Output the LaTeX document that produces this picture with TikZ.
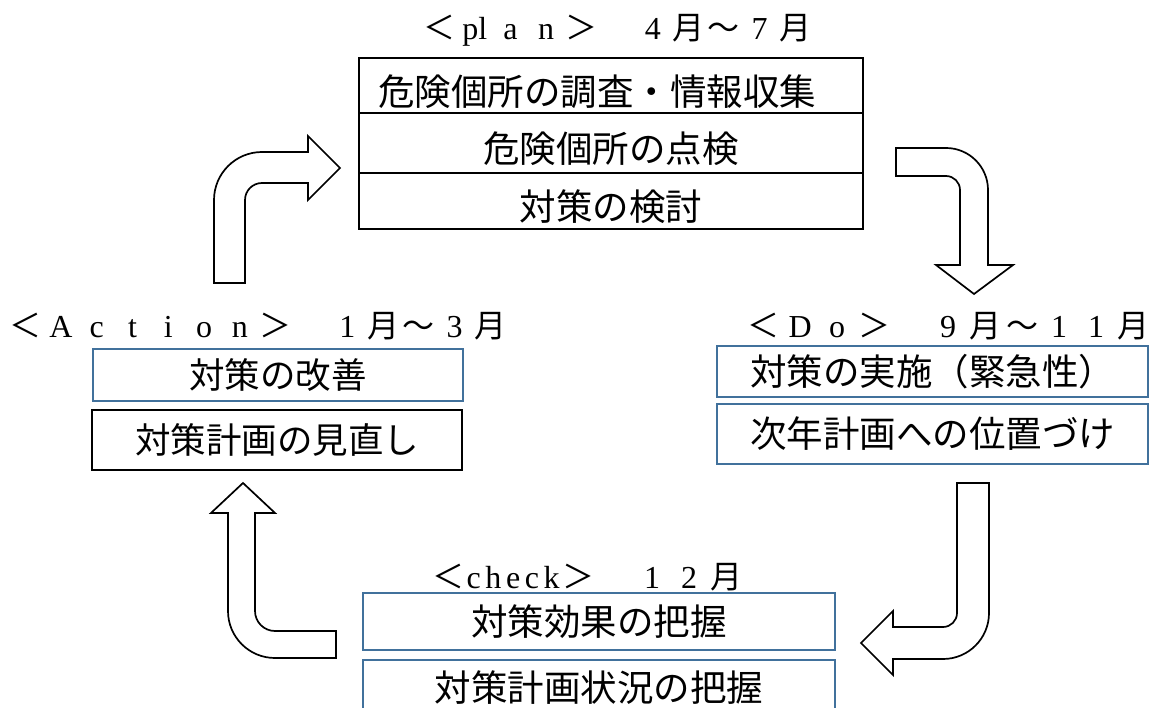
\documentclass[tikz,border=0pt]{standalone}
\usepackage{fontspec}
\setmainfont{Liberation Serif}
\newfontfamily\jp{Noto Sans CJK JP}
\newlength\cw
\newcommand\fc[1]{\makebox[\cw][c]{#1}}
\definecolor{boxblue}{HTML}{41719C}
\tikzset{
  bk/.style={draw=black, line width=1.6pt, fill=white, inner sep=0pt},
  bl/.style={draw=boxblue, line width=1.3pt, fill=white, inner sep=0pt},
  jtext/.style={font=\jp\fontsize{36.5}{36.5}\selectfont},
  plantext/.style={jtext, text height=40pt, text depth=0pt},
  barrow/.style={draw=black, line width=1.7pt, fill=white, line join=miter},
  head/.style={inner sep=0pt, anchor=base west, font=\fontsize{32}{32}\selectfont},
}
\begin{document}
\begin{tikzpicture}[x=1pt, y=-1pt]
\useasboundingbox (0,0) rectangle (1150,708);
\clip (0,0) rectangle (1150,708);
\fill[white] (0,0) rectangle (1150,708);

% ---------- headings ----------
\node[head] (hplan) at (421.2,40) {\setlength\cw{35.6pt}\fc{\jp ＜}\fc{pl}\fc{a}\fc{n}\fc{\jp ＞}\fc{}\fc{4}\fc{\jp 月}\fc{\jp ～}\fc{7}\fc{\jp 月}};
\node[head] (hact) at (7,337) {\setlength\cw{35.8pt}\fc{\jp ＜}\fc{A}\fc{c}\fc{t}\fc{i}\fc{o}\fc{n}\fc{\jp ＞}\fc{}\fc{1}\fc{\jp 月}\fc{\jp ～}\fc{3}\fc{\jp 月}};
\node[head] (hdo) at (744.5,337) {\setlength\cw{37pt}\fc{\jp ＜}\fc{D}\fc{o}\fc{\jp ＞}\fc{}\fc{9}\fc{\jp 月}\fc{\jp ～}\fc{1}\fc{1}\fc{\jp 月}};
\node[head] (hchk) at (429.5,588) {\setlength\cw{37pt}\fc{\jp ＜}\makebox[93pt][s]{c\hfil h\hfil e\hfil c\hfil k}\fc{\jp ＞}\fc{}\fc{1}\fc{2}\fc{\jp 月}};

% ---------- plan boxes ----------
\node[bk, plantext, minimum width=504pt, minimum height=55pt] (p1) at (611,85.5) {危険個所の調査・情報収集\hspace*{28pt}};
\node[bk, plantext, minimum width=504pt, minimum height=60pt] (p2) at (611,143) {危険個所の点検};
\node[bk, plantext, minimum width=504pt, minimum height=56pt] (p3) at (611,201) {対策の検討};

% ---------- action boxes ----------
\node[bl, jtext, font=\jp\fontsize{35.5}{35.5}\selectfont, minimum width=370pt, minimum height=52pt] (a1) at (278,375) {対策の改善};
\node[bk, jtext, font=\jp\fontsize{35.5}{35.5}\selectfont, line width=1.4pt, minimum width=370pt, minimum height=60pt] (a2) at (277,440) {対策計画の見直し};

% ---------- do boxes ----------
\node[bl, jtext, minimum width=431pt, minimum height=51pt] (d1) at (932.5,371.5) {対策の実施（緊急性）};
\node[bl, jtext, minimum width=431pt, minimum height=60pt] (d2) at (932.5,434) {次年計画への位置づけ};

% ---------- check boxes ----------
\node[bl, jtext, minimum width=472pt, minimum height=57pt] (c1) at (599,621.5) {対策効果の把握};
\node[bl, jtext, minimum width=472pt, minimum height=56pt] (c2) at (599,688) {対策計画状況の把握};

% ---------- bent block arrows ----------
% Action -> Plan
\draw[barrow] (214,283) -- (214,200) arc[start angle=180, end angle=270, radius=48]
  -- (308,152) -- (308,136) -- (340,168) -- (308,200) -- (308,183) -- (262,183)
  arc[start angle=270, end angle=180, radius=17] -- (245,283) -- cycle;
% Plan -> Do
\draw[barrow] (896,148) -- (946,148) arc[start angle=270, end angle=360, radius=42]
  -- (988,265) -- (1013,265) -- (974,294) -- (936,265) -- (960,265) -- (960,190)
  arc[start angle=0, end angle=-90, radius=14] -- (896,176) -- cycle;
% Do -> Check
\draw[barrow] (957,483) -- (989,483) -- (989,613) arc[start angle=0, end angle=90, radius=46]
  -- (893,659) -- (893,675) -- (861,643) -- (893,611) -- (893,627) -- (943,627)
  arc[start angle=90, end angle=0, radius=14] -- cycle;
% Check -> Action
\draw[barrow] (336,631) -- (275,631) arc[start angle=90, end angle=180, radius=20]
  -- (255,513) -- (275,513) -- (243,483) -- (211,513) -- (228,513) -- (228,611)
  arc[start angle=180, end angle=90, radius=47] -- (336,658) -- cycle;
\end{tikzpicture}
\end{document}
